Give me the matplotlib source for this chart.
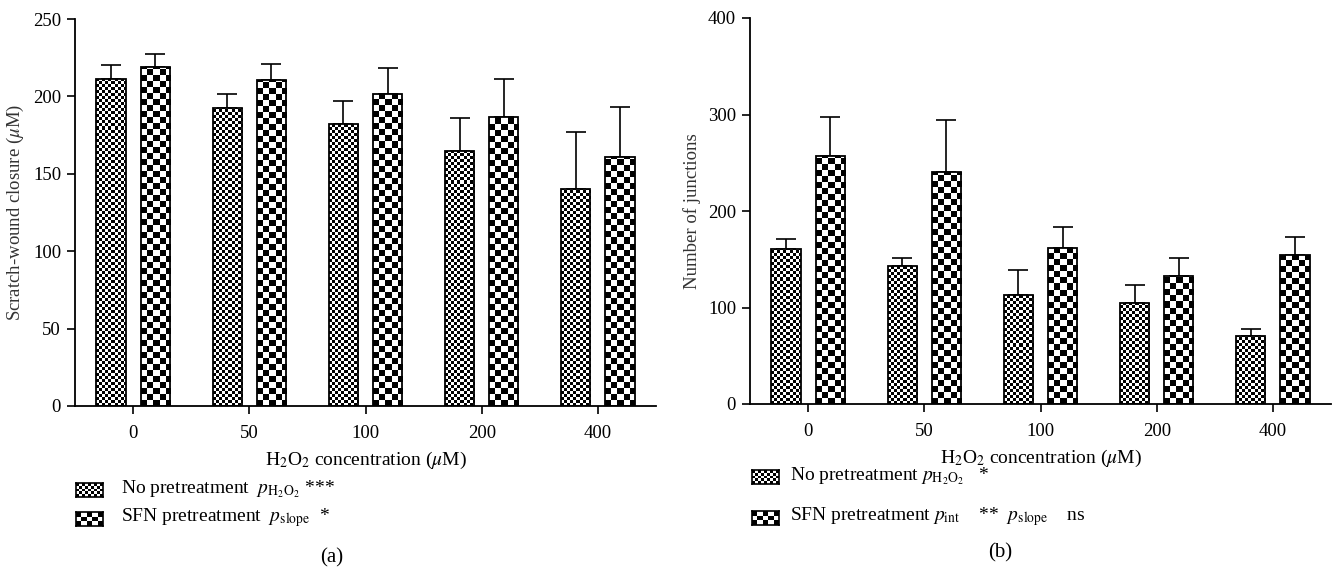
import numpy as np
import matplotlib
matplotlib.use("Agg")
import matplotlib.pyplot as plt

plt.rcParams["font.family"] = ["Liberation Serif", "DejaVu Serif"]
plt.rcParams["mathtext.fontset"] = "stix"

# data
categories = ["0", "50", "100", "200", "400"]

a_no = [211.5, 192.5, 182, 165, 140]
a_no_err = [9, 9, 15, 21, 37]
a_sfn = [219, 210.4, 201.8, 187, 161]
a_sfn_err = [8.5, 10.3, 16.5, 24, 32]

b_no = [161, 142.5, 113, 104.5, 70.5]
b_no_err = [10, 9, 26, 18.5, 7]
b_sfn = [257.5, 240.5, 162, 133, 154]
b_sfn_err = [39.5, 54, 21, 18, 19.5]

W, H = 1334, 573
FINE, COARSE = 3, 6  # checker cell size in pixels


def checker(ny, nx):
    return np.add.outer(np.arange(ny), np.arange(nx)) % 2


def fill_checker(ax, bar, cell):
    x0, y0 = bar.get_xy()
    w, h = bar.get_width(), bar.get_height()
    p0 = ax.transData.transform((x0, y0))
    p1 = ax.transData.transform((x0 + w, y0 + h))
    nx = max(1, int(np.ceil((p1[0] - p0[0]) / cell)))
    ny = max(1, int(np.ceil((p1[1] - p0[1]) / cell)))
    # extent in data units of exact cell multiples, clipped by the bar
    x1 = ax.transData.inverted().transform((p0[0] + nx * cell, p0[1]))[0]
    y1 = ax.transData.inverted().transform((p0[0], p0[1] + ny * cell))[1]
    im = ax.imshow(checker(ny, nx), cmap="gray", vmin=0, vmax=1, origin="lower",
                   extent=(x0, x1, y0, y1), aspect="auto",
                   interpolation="nearest", zorder=2)
    im.set_clip_path(bar)


def draw_panel(ax, no, no_err, sfn, sfn_err, ymax, ystep, ylabel):
    x = np.arange(len(categories))
    width = 0.25
    off = 0.19
    ax.set_xlim(-0.5, len(categories) - 0.5)
    ax.set_ylim(0, ymax)
    ax.set_yticks(np.arange(0, ymax + 1, ystep))
    ax.set_xticks(x)
    ax.set_xticklabels(categories)

    bars1 = ax.bar(x - off, no, width=width, facecolor="none", edgecolor="black",
                   linewidth=1.3, zorder=3)
    bars2 = ax.bar(x + off, sfn, width=width, facecolor="none", edgecolor="black",
                   linewidth=1.3, zorder=3)
    ax.errorbar(x - off, no, yerr=[np.zeros(len(no)), no_err], fmt="none",
                ecolor="black", elinewidth=1.2, capsize=7, capthick=1.2, zorder=1)
    ax.errorbar(x + off, sfn, yerr=[np.zeros(len(sfn)), sfn_err], fmt="none",
                ecolor="black", elinewidth=1.2, capsize=7, capthick=1.2, zorder=1)
    for b in bars1:
        fill_checker(ax, b, FINE)
    for b in bars2:
        fill_checker(ax, b, COARSE)
    ax.set_xlim(-0.5, len(categories) - 0.5)
    ax.set_ylim(0, ymax)

    for s in ["top", "right"]:
        ax.spines[s].set_visible(False)
    for s in ["left", "bottom"]:
        ax.spines[s].set_linewidth(1.3)
    ax.tick_params(direction="out", length=6, width=1.2, labelsize=13.5, pad=4)
    ax.tick_params(axis="x", pad=8)
    ax.set_ylabel(ylabel, fontsize=13.5, color="#333333", labelpad=5)
    ax.set_xlabel(r"H$_2$O$_2$ concentration ($\mu$M)", fontsize=14, labelpad=5)


def legend_patch(fig, x, y, cell):
    # x, y: pixel coords of the patch's top-left corner
    pw, ph = 27, 14
    lax = fig.add_axes([x / W, 1 - (y + ph) / H, pw / W, ph / H])
    lax.imshow(checker(int(np.ceil(ph / cell)), int(np.ceil(pw / cell))),
               cmap="gray", vmin=0, vmax=1, interpolation="nearest", aspect="auto")
    lax.set_xticks([])
    lax.set_yticks([])
    for s in lax.spines.values():
        s.set_linewidth(1.2)


fig = plt.figure(figsize=(W / 100, H / 100), dpi=100)

ax_a = fig.add_axes([75 / W, 1 - 406 / H, (656 - 75) / W, (406 - 19) / H])
ax_b = fig.add_axes([750 / W, 1 - 404 / H, (1331 - 750) / W, (404 - 18) / H])

draw_panel(ax_a, a_no, a_no_err, a_sfn, a_sfn_err, 250, 50,
           r"Scratch-wound closure ($\mu$M)")
draw_panel(ax_b, b_no, b_no_err, b_sfn, b_sfn_err, 400, 100, "Number of junctions")

# legends
legend_patch(fig, 76, 483, FINE)
legend_patch(fig, 76, 512, COARSE)
fig.text(121 / W, 1 - 489 / H, r"No pretreatment  $p_{\mathrm{H_2O_2}}$ ***",
         fontsize=14, va="center")
fig.text(121 / W, 1 - 518 / H, r"SFN pretreatment  $p_{\mathrm{slope}}$  *",
         fontsize=14, va="center")

legend_patch(fig, 752, 470, FINE)
legend_patch(fig, 752, 511, COARSE)
fig.text(790 / W, 1 - 476 / H, r"No pretreatment $p_{\mathrm{H_2O_2}}$   *",
         fontsize=14, va="center")
fig.text(790 / W, 1 - 517 / H,
         r"SFN pretreatment $p_{\mathrm{int}}$    **  $p_{\mathrm{slope}}$    ns",
         fontsize=14, va="center")

fig.text(332 / W, 1 - 558 / H, "(a)", fontsize=15, ha="center", va="center")
fig.text(1000 / W, 1 - 553 / H, "(b)", fontsize=15, ha="center", va="center")

fig.savefig("out.png", dpi=100)
